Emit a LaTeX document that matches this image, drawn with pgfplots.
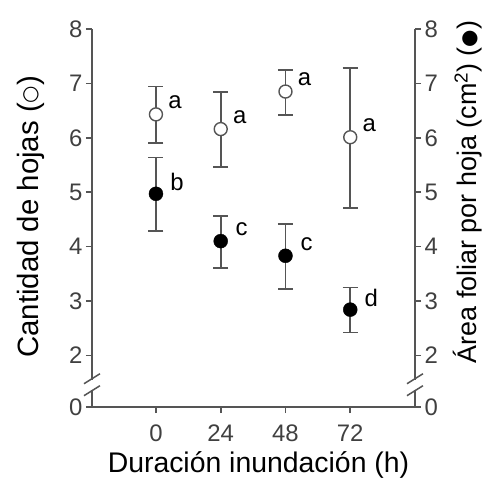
\documentclass[border=0pt]{standalone}
\usepackage{fontspec}
\setmainfont{Liberation Sans}
\newfontfamily\dejavu{DejaVu Sans}
\usepackage{pgfplots}
\pgfplotsset{compat=1.18}
\usepackage{pgfplotstable}
\definecolor{axgray}{HTML}{555555}
\definecolor{tickc}{HTML}{404040}
\tikzset{brk/.style={axgray, line width=1.5bp}}
\newcommand{\sym}[1]{\raisebox{1.5bp}{\fontsize{20}{20}\dejavu #1}}

\pgfplotstableread{
x y ep em l
0 6.43 0.51 0.53 a
24 6.16 0.68 0.70 a
48 6.85 0.40 0.43 a
72 6.01 1.27 1.30 a
}\hojas
\pgfplotstableread{
x y ep em l
0 4.97 0.67 0.68 b
24 4.10 0.46 0.49 c
48 3.83 0.59 0.61 c
72 2.84 0.41 0.42 d
}\area

\begin{document}
\begin{tikzpicture}
\pgfplotsset{set layers,
 common/.style={scale only axis, width=323bp, height=378bp,
  xmin=-23.7, xmax=96, ymin=1.05, ymax=8,
  ytick={1.05,2,3,4,5,6,7,8}, yticklabels={0,2,3,4,5,6,7,8},
  axis line style={axgray, line width=1.6bp},
  tick style={axgray, line width=1.6bp},
  major tick length=6bp, tick align=outside,
  tick label style={font=\fontsize{24}{24}\selectfont, text=tickc},
  /pgf/number format/assume math mode=true,
  clip=false}}
\begin{axis}[common, axis x line*=bottom, axis y line*=left,
  xtick={0,24,48,72},
  xticklabel style={yshift=-8bp},
  xlabel={Duración inundación (h)},
  xlabel style={font=\fontsize{28.5}{30}\selectfont, at={(axis description cs:0.5,0)}, anchor=center, yshift=-58bp, xshift=5bp},
  ylabel={Cantidad de hojas (\sym{○})},
  ylabel style={font=\fontsize{29.5}{30}\selectfont, at={(axis description cs:-0.19,0.503)}, anchor=center, rotate=0}]
\addplot[only marks, mark=*, mark size=6.5bp,
  mark options={draw=axgray, fill=white, line width=1.4bp},
  nodes near coords, point meta=explicit symbolic,
  nodes near coords style={font=\fontsize{24}{24}\selectfont, anchor=center, xshift=19bp, yshift=12bp, text=black},
  error bars/.cd, y dir=both, y explicit,
  error bar style={axgray, line width=1.6bp},
  error mark options={rotate=90, mark size=7.5bp, line width=1.6bp, axgray}]
  table[x=x, y=y, y error plus=ep, y error minus=em, meta=l]{\hojas};
\addplot[only marks, mark=*, mark size=7bp,
  mark options={draw=black, fill=black},
  nodes near coords, point meta=explicit symbolic,
  nodes near coords style={font=\fontsize{24}{24}\selectfont, anchor=center, xshift=21bp, yshift=12bp, text=black},
  error bars/.cd, y dir=both, y explicit,
  error bar style={axgray, line width=1.6bp},
  error mark options={rotate=90, mark size=7.5bp, line width=1.6bp, axgray}]
  table[x=x, y=y, y error plus=ep, y error minus=em, meta=l]{\area};
\end{axis}
\begin{axis}[common, axis y line*=right, axis x line=none,
  ylabel={Área foliar por hoja (cm\textsuperscript{2}) (\sym{●})},
  ylabel style={font=\fontsize{27}{28}\selectfont, at={(axis description cs:1.163,0.569)}, anchor=center, rotate=0}]
\begin{pgfonlayer}{axis foreground}
 \fill[white] ([xshift=-3bp]axis cs:-23.7,1.37) rectangle ([xshift=3bp]axis cs:-23.7,1.55);
 \draw[brk] ([xshift=-8bp,yshift=-5bp]axis cs:-23.7,1.57) -- ([xshift=8bp,yshift=5bp]axis cs:-23.7,1.57);
 \draw[brk] ([xshift=-8bp,yshift=-5bp]axis cs:-23.7,1.35) -- ([xshift=8bp,yshift=5bp]axis cs:-23.7,1.35);
 \fill[white] ([xshift=-3bp]axis cs:96,1.37) rectangle ([xshift=3bp]axis cs:96,1.55);
 \draw[brk] ([xshift=-8bp,yshift=-5bp]axis cs:96,1.57) -- ([xshift=8bp,yshift=5bp]axis cs:96,1.57);
 \draw[brk] ([xshift=-8bp,yshift=-5bp]axis cs:96,1.35) -- ([xshift=8bp,yshift=5bp]axis cs:96,1.35);
\end{pgfonlayer}
\end{axis}
\pgfresetboundingbox
\path (-92bp,-79bp) rectangle (397bp,407bp);
\end{tikzpicture}
\end{document}
